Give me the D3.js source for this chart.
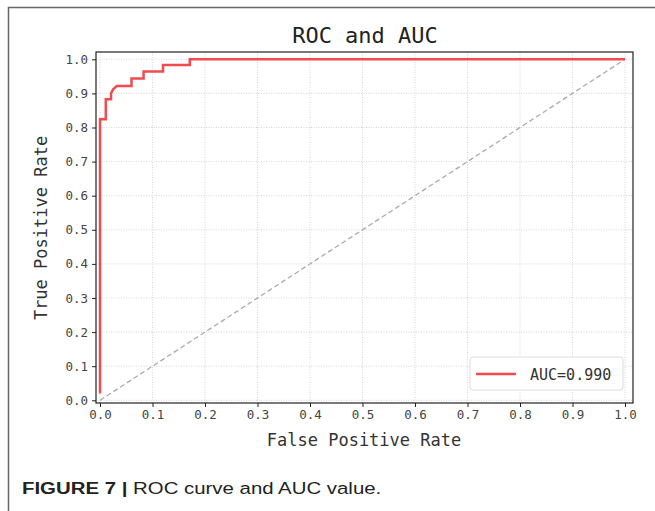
<!DOCTYPE html>
<html>
<head>
<meta charset="utf-8">
<script src="https://cdn.jsdelivr.net/npm/d3@7"></script>
<style>
  body { margin: 0; background: #fff; }
  svg { display: block; }
</style>
</head>
<body>
<script>
// ROC curve points
const fpr = [0, 0, 0.011, 0.011, 0.021, 0.021, 0.025, 0.032, 0.06, 0.06, 0.083, 0.083, 0.12, 0.12, 0.171, 0.171, 1.0];
const tpr = [0.02, 0.824, 0.824, 0.883, 0.883, 0.9, 0.912, 0.922, 0.922, 0.944, 0.944, 0.964, 0.964, 0.983, 0.983, 1.0, 1.0];
const ticks = [0, 0.1, 0.2, 0.3, 0.4, 0.5, 0.6, 0.7, 0.8, 0.9, 1.0];
const aucLabel = "AUC=0.990";

const W = 655, H = 511;
const svg = d3.select("body").append("svg")
              .attr("width", W)
              .attr("height", H)

// outer frame (left + top only)
svg.append("path")
   .attr("d", "M8.5," + H + " V7.5 H" + W)
   .attr("fill", "none")
   .attr("stroke", "#666")
   .attr("stroke-width", 1.5)

const ax = { left: 96, right: 633, top: 52, bottom: 403 };
const x = d3.scaleLinear().domain([0, 1]).range([100, 625]);
const y = d3.scaleLinear().domain([0, 1]).range([400.3, 59.3]);

const mono = "'DejaVu Sans Mono', 'Liberation Mono', monospace";

// grid
const grid = svg.append("g")
grid.selectAll(".gx").data(ticks).enter().append("line")
    .attr("x1", d => x(d)).attr("x2", d => x(d))
    .attr("y1", ax.top).attr("y2", ax.bottom)
    .attr("stroke", "#ccc").attr("stroke-width", 0.8)
    .attr("stroke-dasharray", "1,1.5")
grid.selectAll(".gy").data(ticks).enter().append("line")
    .attr("y1", d => y(d)).attr("y2", d => y(d))
    .attr("x1", ax.left).attr("x2", ax.right)
    .attr("stroke", "#ccc").attr("stroke-width", 0.8)
    .attr("stroke-dasharray", "1,1.5")

// diagonal
svg.append("line")
   .attr("x1", x(0)).attr("y1", y(0))
   .attr("x2", x(1)).attr("y2", y(1))
   .attr("stroke", "#aaa")
   .attr("stroke-width", 1.3)
   .attr("stroke-dasharray", "5,3")

// roc curve
const pts = fpr.map((f, i) => [f, tpr[i]]);
svg.append("path")
   .datum(pts)
   .attr("d", d3.line().x(d => x(d[0])).y(d => y(d[1])))
   .attr("fill", "none")
   .attr("stroke", "#f24a4f")
   .attr("stroke-width", 2.5)

// spines
svg.append("rect")
   .attr("x", ax.left).attr("y", ax.top)
   .attr("width", ax.right - ax.left)
   .attr("height", ax.bottom - ax.top)
   .attr("fill", "none")
   .attr("stroke", "#222")
   .attr("stroke-width", 1.2)

// axes
const xAxis = svg.append("g")
                 .attr("transform", "translate(0," + ax.bottom + ")")
                 .call(d3.axisBottom(x).tickValues(ticks).tickFormat(d3.format(".1f")).tickSize(4).tickPadding(3))
const yAxis = svg.append("g")
                 .attr("transform", "translate(" + ax.left + ",0)")
                 .call(d3.axisLeft(y).tickValues(ticks).tickFormat(d3.format(".1f")).tickSize(4).tickPadding(4))
;[xAxis, yAxis].forEach(a => {
    a.select(".domain").remove()
    a.selectAll("line").attr("stroke", "#222")
    a.selectAll("text")
     .style("font-family", mono)
     .style("font-size", "12.5px")
     .attr("fill", "#444")
})

// title + labels
svg.append("text")
   .attr("x", 365).attr("y", 43)
   .attr("text-anchor", "middle")
   .style("font-family", mono)
   .style("font-size", "22px")
   .attr("fill", "#222")
   .text("ROC and AUC")

svg.append("text")
   .attr("x", 364).attr("y", 446)
   .attr("text-anchor", "middle")
   .style("font-family", mono)
   .style("font-size", "17px")
   .attr("fill", "#333")
   .text("False Positive Rate")

svg.append("text")
   .attr("transform", "translate(47,228) rotate(-90)")
   .attr("text-anchor", "middle")
   .style("font-family", mono)
   .style("font-size", "17px")
   .attr("fill", "#333")
   .text("True Positive Rate")

// legend
const lg = svg.append("g").attr("transform", "translate(470,357)")
lg.append("rect")
  .attr("width", 153).attr("height", 33).attr("rx", 3)
  .attr("fill", "#fff").attr("stroke", "#ddd")
lg.append("line")
  .attr("x1", 6).attr("x2", 46).attr("y1", 17).attr("y2", 17)
  .attr("stroke", "#f24a4f").attr("stroke-width", 2.5)
lg.append("text")
  .attr("x", 60).attr("y", 23)
  .style("font-family", mono)
  .style("font-size", "15px")
  .attr("fill", "#333")
  .text(aucLabel)

// caption
const cap = svg.append("text")
               .attr("transform", "translate(22,494) scale(1.2,1)")
               .style("font-family", "'Liberation Sans', Arial, sans-serif")
               .style("font-size", "17px")
               .attr("fill", "#222")
cap.append("tspan").style("font-weight", "bold").text("FIGURE 7 | ")
cap.append("tspan").text("ROC curve and AUC value.")
</script>
</body>
</html>
